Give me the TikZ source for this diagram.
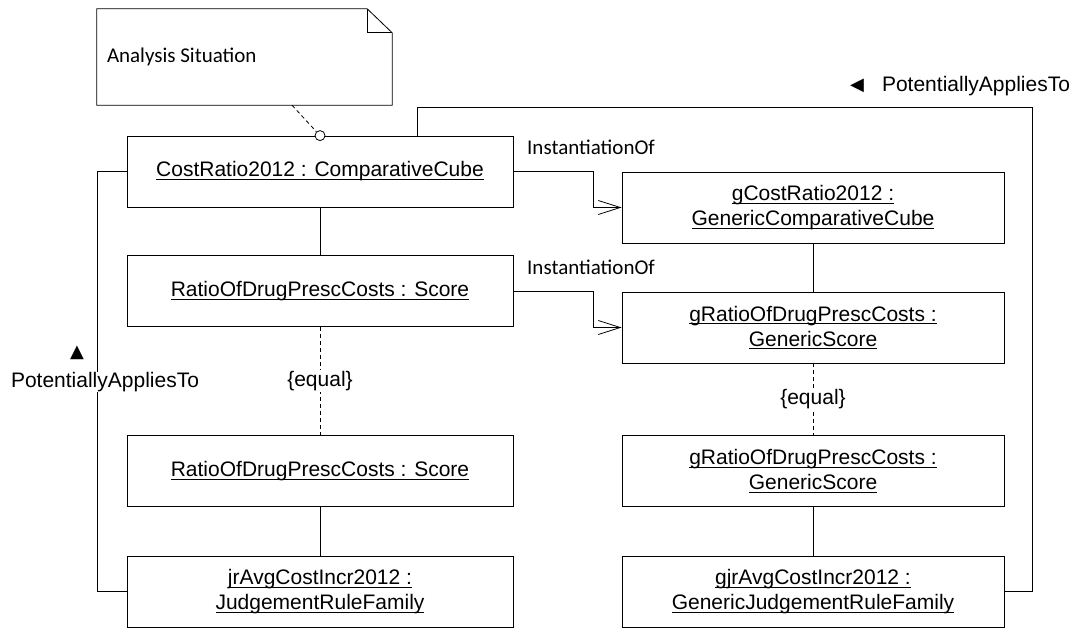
\documentclass[tikz,border=0pt]{standalone}
\usepackage{fontspec}
\setmainfont{Liberation Sans}
\newfontfamily\calfont{Carlito}
\newfontfamily\symfont{DejaVu Sans}
\usetikzlibrary{arrows.meta, positioning, calc}
\newcommand{\ulname}[1]{\setbox0\hbox{#1}\rlap{\rule[-3pt]{\wd0}{0.9pt}}\box0}
\tikzset{
	objL/.style   ={rectangle, draw=black, line width=0.8pt, minimum width=386pt, minimum height=71pt, align=center, inner sep=2pt},
	objR/.style   ={objL, minimum width=382pt},
	notebox/.style={rectangle, minimum width=295pt, minimum height=96pt},
	lbl/.style    ={inner sep=0pt},
	link/.style   ={line width=0.8pt},
	eqlink/.style ={link, dash pattern=on 4pt off 3pt},
	inst/.style   ={link, -{Straight Barb[length=22pt, width=14pt]}},
	tri/.style    ={inner sep=0pt, font=\symfont\fontsize{18}{18}\selectfont},
}

\begin{document}
\begin{tikzpicture}[x=1pt, y=-1pt, font=\fontsize{21}{25}\selectfont]
	\useasboundingbox (0,0) rectangle (1078,628);
	% note
	\node[notebox] (note) at (244.5,57) {};
	\draw[link] (note.north west) -- ([xshift=-25pt]note.north east) -- ([yshift=-24pt]note.north east) -- (note.south east) -- (note.south west) -- cycle;
	\draw[link] ([xshift=-25pt]note.north east) |- ([yshift=-24pt]note.north east);
	\node[lbl, anchor=west, font=\calfont\fontsize{21}{25}\selectfont] (notetxt) at ([xshift=10pt]note.west) {Analysis Situation};
	% left column
	\node[objL] (cr) at (320,171.5) {\ulname{CostRatio2012 : ComparativeCube}};
	\node[objL] (ratioA) at (320,291) {\ulname{RatioOfDrugPrescCosts : Score}};
	\node[objL] (ratioB) at (320,471) {\ulname{RatioOfDrugPrescCosts : Score}};
	\node[objL] (jr) at (320,591.5) {\ulname{jrAvgCostIncr2012 :}\\\ulname{JudgementRuleFamily}};
	% right column
	\node[objR] (gcr) at (813,207.5) {\ulname{gCostRatio2012 :}\\\ulname{GenericComparativeCube}};
	\node[objR] (gratioA) at (813,327.5) {\ulname{gRatioOfDrugPrescCosts :}\\\ulname{GenericScore}};
	\node[objR] (gratioB) at (813,471) {\ulname{gRatioOfDrugPrescCosts :}\\\ulname{GenericScore}};
	\node[objR] (gjr) at (813,591.5) {\ulname{gjrAvgCostIncr2012 :}\\\ulname{GenericJudgementRuleFamily}};
	% vertical links
	\draw[link] (cr) -- (ratioA);
	\draw[eqlink] (ratioA) -- (ratioB) node[midway, fill=white, inner sep=1pt] (eqL) {\{equal\}};
	\draw[link] (ratioB) -- (jr);
	\draw[link] (gcr) -- (gratioA);
	\draw[eqlink] (gratioA) -- (gratioB) node[midway, fill=white, inner sep=1pt] (eqR) {\{equal\}};
	\draw[link] (gratioB) -- (gjr);
	% instantiation
	\draw[inst] (cr.east) -- ++(80,0) |- (gcr.west);
	\draw[inst] (ratioA.east) -- ++(80,0) |- (gratioA.west);
	\node[lbl, anchor=west, font=\calfont\fontsize{21}{25}\selectfont] (instA) at (527,147) {InstantiationOf};
	\node[lbl, anchor=west, font=\calfont\fontsize{21}{25}\selectfont] (instB) at (527,267) {InstantiationOf};
	% potentially applies to
	\coordinate (cornerR) at (1032,107);
	\draw[link] ([xshift=97pt]cr.north) |- (cornerR) |- (gjr.east);
	\draw[link] (cr.west) -- ++(-29,0) |- (jr.west);
	\node[lbl, fill=white] (patL) at (105,382) {PotentiallyAppliesTo};
	\node[tri] (triL) at (77,353) {▲};
	\node[lbl] (patR) at (976,86) {PotentiallyAppliesTo};
	\node[tri] (triR) at (857,86) {◀};
	% anchor circle
	\node[circle, draw=black, line width=0.8pt, fill=white, minimum size=10pt, inner sep=0pt] (knob) at (cr.north) {};
	\draw[eqlink] ([xshift=47.5pt]note.south) -- (knob);
\end{tikzpicture}
\end{document}
